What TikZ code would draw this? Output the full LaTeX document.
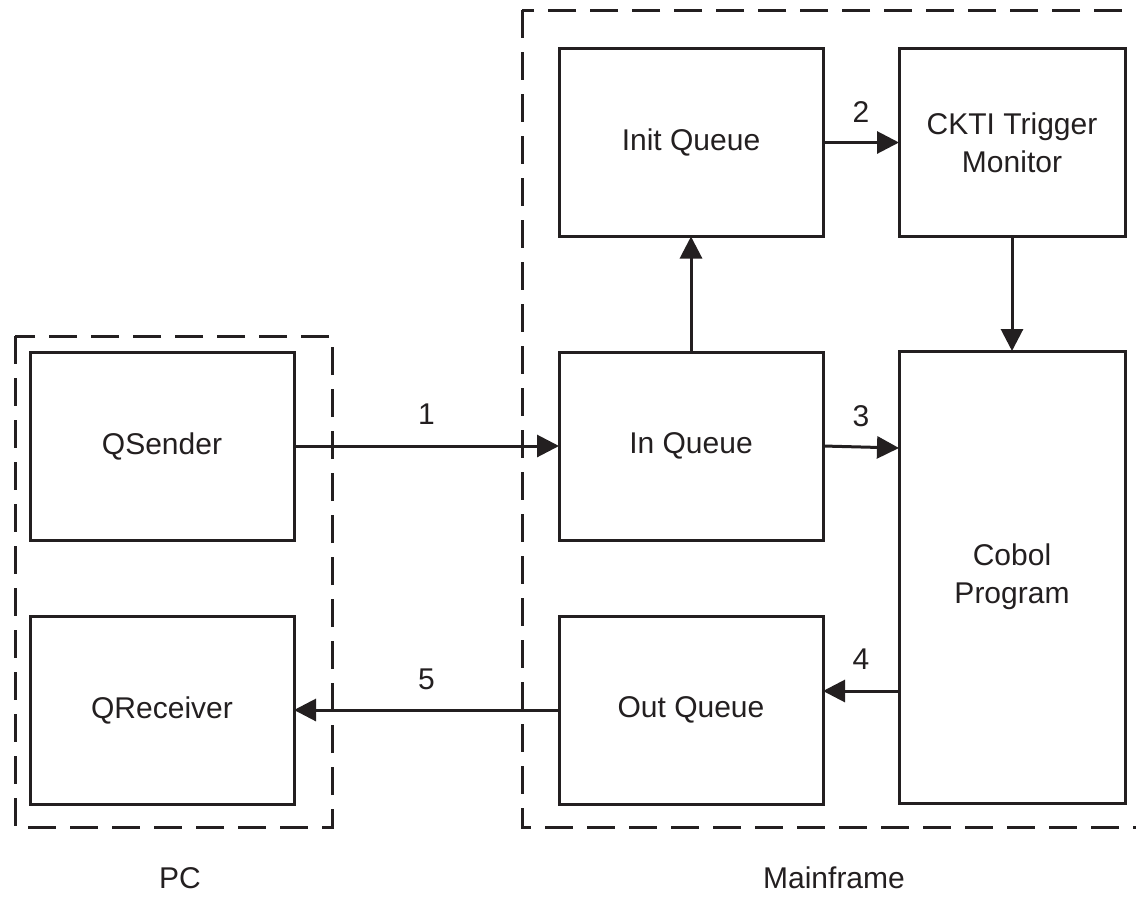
\documentclass[tikz,border=0pt]{standalone}
\usepackage{fontspec}
\setsansfont{Liberation Sans}
\usetikzlibrary{arrows.meta}
\definecolor{linecol}{RGB}{35,31,32}
\tikzset{
  block/.style = {draw=linecol, line width=3pt, inner sep=0pt, outer sep=0pt,
    align=center, text=linecol, font=\sffamily\fontsize{30}{38}\selectfont,
    minimum width=264pt, minimum height=188pt},
  tallblock/.style = {block, minimum width=226pt},
  group/.style = {-, line width=3pt, dash pattern=on 28pt off 14pt},
  steplabel/.style = {text=linecol, font=\sffamily\fontsize{30}{36}\selectfont},
}

\begin{document}
\begin{tikzpicture}[x=1pt,y=-1pt,->,>={Triangle[length=22pt,width=22pt]},
  line width=3pt,draw=linecol]
\useasboundingbox (0,0) rectangle (1136,897);
% boxes
\node [block] (qsend) at (162,446) {QSender};
\node [block] (qrecv) at (162,710) {QReceiver};
\node [block] (initq) at (691,142.5) {Init Queue};
\node [block] (inq) at (691,446) {In Queue};
\node [block] (outq) at (691,710) {Out Queue};
\node [tallblock] (ckti) at (1012,142.5) {CKTI Trigger\\Monitor};
\node [tallblock, minimum height=452pt] (cobol) at (1012,577) {Cobol\\Program};
% groups
\draw [group] (15,336) rectangle (332,827);
\draw [group] (522,10) rectangle (1160,827);
\node [steplabel] (pc) at (180,878) {PC};
\node [steplabel] (mainframe) at (834,878) {Mainframe};
% flow
\coordinate (in3) at ([yshift=-2pt]inq.east -| cobol.west);
\coordinate (out4) at ([yshift=19pt]outq.east);
\draw (qsend.east) -- node [steplabel, above=17pt] {1} (inq.west);
\draw (inq) -- (initq);
\draw (initq.east) -- node [steplabel, above=15pt] {2} (ckti.west);
\draw (inq.east) -- node [steplabel, above=15pt] {3} (in3);
\draw (ckti) -- (cobol);
\draw (out4 -| cobol.west) -- node [steplabel, above=17pt] {4} (out4);
\draw (outq.west) -- node [steplabel, above=15pt] {5} (qrecv.east);
\end{tikzpicture}
\end{document}
